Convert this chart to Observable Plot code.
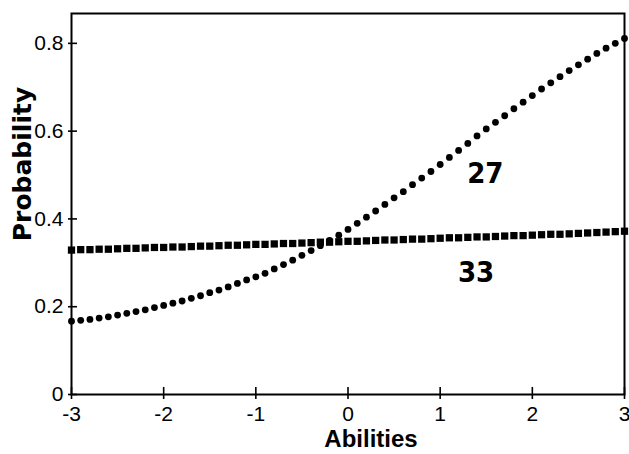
<!DOCTYPE html>
<html>
<head>
<meta charset="utf-8">
<script src="https://cdn.jsdelivr.net/npm/d3@7"></script>
<script src="https://cdn.jsdelivr.net/npm/@observablehq/plot@0.6"></script>
<style>
  html, body { margin: 0; padding: 0; background: #fff; }
  #chart svg { display: block; }
</style>
</head>
<body>
<div id="chart"></div>
<script>
const abilities = [-3.0,-2.9,-2.8,-2.7,-2.6,-2.5,-2.4,-2.3,-2.2,-2.1,-2.0,-1.9,-1.8,-1.7,-1.6,-1.5,-1.4,-1.3,-1.2,-1.1,-1.0,-0.9,-0.8,-0.7,-0.6,-0.5,-0.4,-0.3,-0.2,-0.1,0.0,0.1,0.2,0.3,0.4,0.5,0.6,0.7,0.8,0.9,1.0,1.1,1.2,1.3,1.4,1.5,1.6,1.7,1.8,1.9,2.0,2.1,2.2,2.3,2.4,2.5,2.6,2.7,2.8,2.9,3.0];
const item27 = [0.167,0.169,0.171,0.174,0.177,0.181,0.185,0.189,0.193,0.198,0.203,0.208,0.213,0.219,0.225,0.232,0.238,0.245,0.253,0.261,0.268,0.276,0.286,0.296,0.306,0.317,0.328,0.339,0.351,0.363,0.376,0.390,0.404,0.418,0.433,0.448,0.462,0.478,0.493,0.508,0.524,0.540,0.556,0.572,0.589,0.605,0.620,0.635,0.651,0.666,0.681,0.696,0.710,0.724,0.738,0.751,0.764,0.777,0.789,0.800,0.811];
const item33 = [0.329,0.330,0.330,0.331,0.331,0.332,0.333,0.333,0.334,0.335,0.335,0.336,0.336,0.337,0.338,0.338,0.339,0.340,0.340,0.341,0.342,0.342,0.343,0.344,0.344,0.345,0.346,0.347,0.347,0.348,0.349,0.349,0.350,0.351,0.352,0.352,0.353,0.354,0.354,0.355,0.356,0.357,0.357,0.358,0.359,0.359,0.360,0.361,0.362,0.362,0.363,0.364,0.365,0.365,0.366,0.367,0.368,0.369,0.370,0.371,0.372];
const xTicks = [-3,-2,-1,0,1,2,3];
const yTicks = [0,0.2,0.4,0.6,0.8];
const xTickLabels = ["-3","-2","-1","0","1","2","3"];
const yTickLabels = ["0","0.2","0.4","0.6","0.8"];
const seriesLabels = [{x: 1.49, y: 0.504, text: "27"}, {x: 1.39, y: 0.278, text: "33"}];

const rows27 = abilities.map((a, i) => ({a, p: item27[i]}));
const rows33 = abilities.map((a, i) => ({a, p: item33[i]}));
const xLab = xTicks.map((v, i) => ({v, t: xTickLabels[i]}));
const yLab = yTicks.map((v, i) => ({v, t: yTickLabels[i]}));

const tickFont = "'Liberation Sans', Arial, sans-serif";
const labelFont = "'DejaVu Sans Condensed', 'Liberation Sans', sans-serif";

const chart = Plot.plot({
  width: 629,
  height: 454,
  marginLeft: 71,
  marginRight: 5,
  marginTop: 13,
  marginBottom: 60,
  style: {fontFamily: "'Liberation Sans', sans-serif", background: "#fff", color: "#000"},
  x: {domain: [-3, 3], axis: null},
  y: {domain: [0, 0.868], axis: null},
  marks: [
    Plot.axisX({ticks: xTicks, tickSize: 12, dy: -7, fill: "none", strokeWidth: 1.6, label: null}),
    Plot.axisY({ticks: yTicks, tickSize: 9, dx: 6, fill: "none", strokeWidth: 1.6, label: null}),
    Plot.text(xLab, {x: "v", y: () => 0, text: "t", dy: 20, lineAnchor: "middle", fontSize: 21, fontFamily: tickFont, fill: "#000", clip: false}),
    Plot.text(yLab, {x: () => -3, y: "v", text: "t", dx: -8, textAnchor: "end", lineAnchor: "middle", fontSize: 21, fontFamily: tickFont, fill: "#000", clip: false}),
    Plot.frame({stroke: "#000", strokeWidth: 2}),
    Plot.dot(rows33, {x: "a", y: "p", symbol: "square", r: 4.1, fill: "#000", stroke: "none"}),
    Plot.dot(rows27, {x: "a", y: "p", r: 3.4, fill: "#000", stroke: "none"}),
    Plot.text(seriesLabels, {x: "x", y: "y", text: "text", fontSize: 29, fontWeight: "bold", fontFamily: labelFont, fill: "#000"}),
    Plot.text(["Abilities"], {frameAnchor: "bottom", lineAnchor: "middle", dx: 23, dy: 45, text: d => d, fontSize: 24, fontWeight: "bold", fill: "#000"}),
    Plot.text(["Probability"], {frameAnchor: "left", textAnchor: "middle", lineAnchor: "middle", dx: -49, dy: -40, rotate: -90, text: d => d, fontSize: 25, fontWeight: "bold", fontFamily: "'DejaVu Sans', sans-serif", fill: "#000"})
  ]
});
document.getElementById("chart").appendChild(chart);
</script>
</body>
</html>
